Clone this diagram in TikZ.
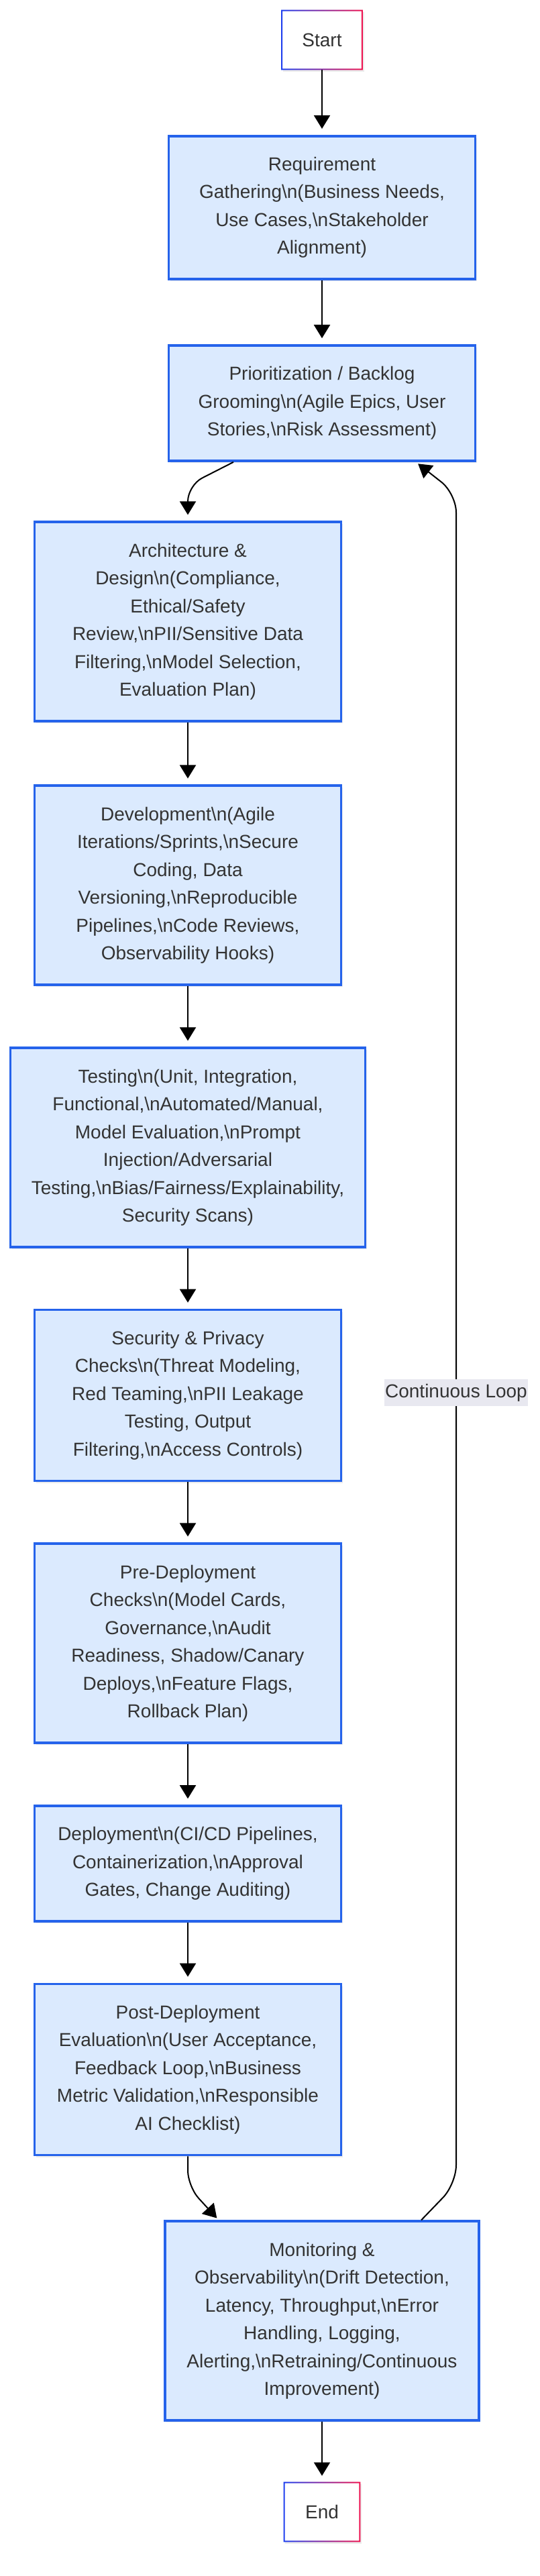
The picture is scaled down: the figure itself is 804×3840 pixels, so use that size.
\documentclass[tikz,border=0pt]{standalone}
\usepackage{fontspec}
\setmainfont{Liberation Sans}
\usetikzlibrary{arrows.meta,calc,shadows}

\definecolor{boxFill}{RGB}{219,234,254}
\definecolor{boxLine}{RGB}{37,99,235}
\definecolor{termBlue}{RGB}{30,64,240}
\definecolor{termRed}{RGB}{240,20,80}
\definecolor{textGray}{RGB}{51,51,51}
\definecolor{loopFill}{RGB}{232,232,240}

\newcommand{\slashn}{\textbackslash n}

\begin{document}
\begin{tikzpicture}[x=0.5pt, y=-0.5pt,
  every node/.style={font=\fontsize{14pt}{20.75pt}\selectfont, text=textGray, align=center},
  stage/.style={draw=boxLine, line width=1.8pt, fill=boxFill, minimum width=228.5pt,
    minimum height={#1*20.75pt+23.75pt},
    drop shadow={opacity=0.15, shadow xshift=1pt, shadow yshift=-1.5pt}},
  term/.style={fill=white, minimum height=44.5pt,
    drop shadow={opacity=0.15, shadow xshift=1pt, shadow yshift=-1.5pt}},
  arr/.style={-{Triangle[length=10pt,width=12pt]}, line width=1pt, shorten >=4.5pt},
  looplabel/.style={fill=loopFill, inner xsep=0.5pt, inner ysep=0pt, minimum height=20pt}]
  \fill[white] (0,0) rectangle (804,3840);

  % Main flow
  \node[term, minimum width=60.5pt] (start) at (480,59.5) {Start};
  \node[stage=4] (req) at (480,309.5) {Requirement\\Gathering\slashn(Business Needs,\\Use Cases,\slashn Stakeholder\\Alignment)};
  \node[stage=3] (prior) at (480,601) {Prioritization / Backlog\\Grooming\slashn(Agile Epics, User\\Stories,\slashn Risk Assessment)};
  \node[stage=6] (arch) at (280,926.5) {Architecture \&\\Design\slashn(Compliance,\\Ethical/Safety\\Review,\slashn PII/Sensitive Data\\Filtering,\slashn Model Selection,\\Evaluation Plan)};
  \node[stage=6] (dev) at (280,1319.5) {Development\slashn(Agile\\Iterations/Sprints,\slashn Secure\\Coding, Data\\Versioning,\slashn Reproducible\\Pipelines,\slashn Code Reviews,\\Observability Hooks)};
  \node[stage=6, minimum width=264.5pt] (test) at (280,1710.5) {Testing\slashn(Unit, Integration,\\Functional,\slashn Automated/Manual,\\Model Evaluation,\slashn Prompt\\Injection/Adversarial\\Testing,\slashn Bias/Fairness/Explainability,\\Security Scans)};
  \node[stage=5] (sec) at (280,2080) {Security \& Privacy\\Checks\slashn(Threat Modeling,\\Red Teaming,\slashn PII Leakage\\Testing, Output\\Filtering,\slashn Access Controls)};
  \node[stage=6] (predep) at (280,2449.5) {Pre-Deployment\\Checks\slashn(Model Cards,\\Governance,\slashn Audit\\Readiness, Shadow/Canary\\Deploys,\slashn Feature Flags,\\Rollback Plan)};
  \node[stage=3] (dep) at (280,2778) {Deployment\slashn(CI/CD Pipelines,\\Containerization,\slashn Approval\\Gates, Change Auditing)};
  \node[stage=5] (postdep) at (280,3085) {Post-Deployment\\Evaluation\slashn(User Acceptance,\\Feedback Loop,\slashn Business\\Metric Validation,\slashn Responsible\\AI Checklist)};
  \node[stage=6, minimum width=234pt] (mon) at (480,3459.5) {Monitoring \&\\Observability\slashn(Drift Detection,\\Latency, Throughput,\slashn Error\\Handling, Logging,\\Alerting,\slashn Retraining/Continuous\\Improvement)};
  \node[term, minimum width=57pt] (finish) at (480,3744.5) {End};

  % Start / End borders
  \foreach \n in {start,finish}
    \shade[left color=termBlue, right color=termRed, even odd rule]
      (\n.south west) rectangle (\n.north east)
      ([shift={(1pt,1pt)}]\n.south west) rectangle ([shift={(-1pt,-1pt)}]\n.north east);

  % Straight edges
  \foreach \a/\b in {start/req, req/prior, arch/dev, dev/test, test/sec, sec/predep, predep/dep, dep/postdep, mon/finish}
    \draw[arr] (\a) -- (\b);

  % Bends
  \draw[arr, rounded corners=12pt] ($(prior.south)+(-132,0)$) -- ($(arch.north)+(0,-53)$) -- (arch.north);
  \draw[arr, rounded corners=12pt, shorten >=2pt] (postdep.south) -- ($(postdep.south)+(0,45)$) -- ($(mon.north)+(-154,0)$);

  % Loop back
  \draw[arr, rounded corners=14pt, shorten >=2pt] ($(mon.north)+(148,0)$) -- ($(mon.north)+(200,-54)$)
    -- ($(prior.south)+(200,47)$) -- ($(prior.south)+(140,0)$);
  \node[looplabel] (looptag) at (680,2076) {Continuous Loop};
\end{tikzpicture}
\end{document}
